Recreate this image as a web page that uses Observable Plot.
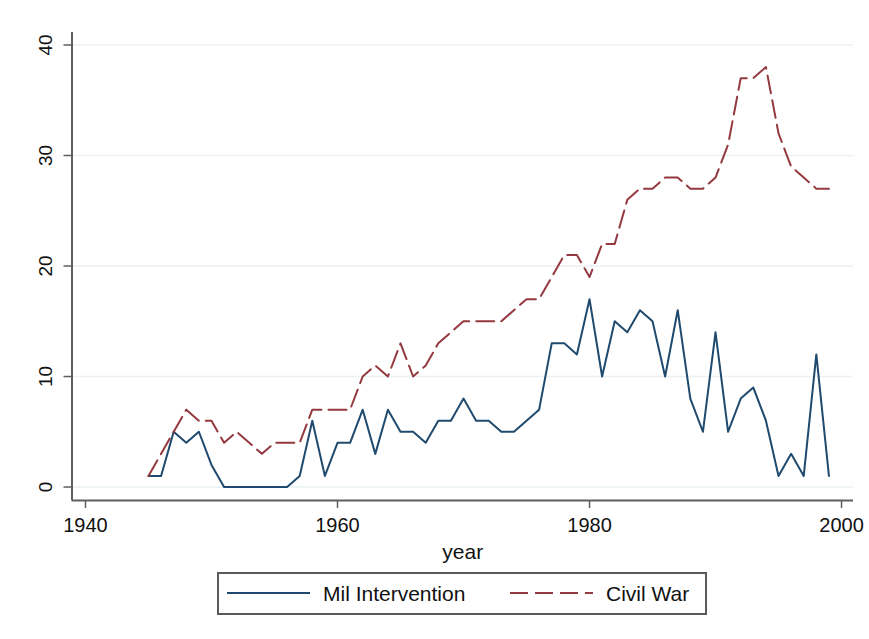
<!DOCTYPE html>
<html><head><meta charset="utf-8">
<script src="https://cdn.jsdelivr.net/npm/d3@7"></script>
<script src="https://cdn.jsdelivr.net/npm/@observablehq/plot@0.6"></script>
<style>
body{margin:0;background:#fff;font-family:"Liberation Sans",Arial,Helvetica,sans-serif;}
#legend{position:relative;margin-left:217px;margin-top:2px;width:486px;height:39px;border:2px solid #5a5a5a;background:#fff;}
#legend .sw{position:absolute;top:17px;}
#legend .lb{position:absolute;top:0;line-height:39px;font-size:21px;color:#111;white-space:nowrap;}
</style></head><body>
<div id="chart"></div>
<script>
const years = [1945,1946,1947,1948,1949,1950,1951,1952,1953,1954,1955,1956,1957,1958,1959,1960,1961,1962,1963,1964,1965,1966,1967,1968,1969,1970,1971,1972,1973,1974,1975,1976,1977,1978,1979,1980,1981,1982,1983,1984,1985,1986,1987,1988,1989,1990,1991,1992,1993,1994,1995,1996,1997,1998,1999];
const milIntervention = [1,1,5,4,5,2,0,0,0,0,0,0,1,6,1,4,4,7,3,7,5,5,4,6,6,8,6,6,5,5,6,7,13,13,12,17,10,15,14,16,15,10,16,8,5,14,5,8,9,6,1,3,1,12,1];
const civilWar = [1,3,5,7,6,6,4,5,4,3,4,4,4,7,7,7,7,10,11,10,13,10,11,13,14,15,15,15,15,16,17,17,19,21,21,19,22,22,26,27,27,28,28,27,27,28,31,37,37,38,32,29,28,27,27];
const seriesNames = ["Mil Intervention", "Civil War"];
const xTicks = [1940, 1960, 1980, 2000];
const yTicks = [0, 10, 20, 30, 40];
const xLabel = "year";

const blue = "#1f4a6e", red = "#94393f", axisGray = "#5e5e5e";
const xDom = [1938.93, 2000.95], yDom = [-1.22, 41.13];

const data = years.map((y, i) => ({year: y, mil: milIntervention[i], civ: civilWar[i]}));

const plot = Plot.plot({
  width: 869, height: 570,
  marginLeft: 71.5, marginRight: 16, marginTop: 32, marginBottom: 70,
  style: {fontFamily: '"Liberation Sans",Arial,Helvetica,sans-serif', background: "#fff", color: "#111"},
  x: {domain: xDom},
  y: {domain: yDom, axis: null},
  marks: [
    Plot.gridY(yTicks, {stroke: "#eaf2f3", strokeOpacity: 1, strokeWidth: 1.5}),
    Plot.ruleX([xDom[0]], {y1: yDom[0], y2: yDom[1], stroke: axisGray, strokeWidth: 2}),
    Plot.ruleY([yDom[0]], {x1: xDom[0], x2: xDom[1], stroke: axisGray, strokeWidth: 2}),
    // y ticks and rotated labels
    Plot.ruleY(yTicks, {x1: xDom[0], x2: xDom[0], insetLeft: -8, stroke: axisGray, strokeWidth: 1.5}),
    Plot.text(yTicks, {y: d => d, text: d => String(d), frameAnchor: "left", rotate: -90, dx: -26,
      textAnchor: "middle", lineAnchor: "middle", fontSize: 19, fill: "#111"}),
    Plot.axisX({ticks: xTicks, tickSize: 8, tickPadding: 9, fontSize: 20, label: null, tickFormat: d => String(d), stroke: axisGray, strokeWidth: 1.5}),
    Plot.lineY(data, {x: "year", y: "mil", stroke: blue, strokeWidth: 2}),
    Plot.lineY(data, {x: "year", y: "civ", stroke: red, strokeWidth: 2, strokeDasharray: "18,7"}),
    Plot.text([xLabel], {text: d => d, frameAnchor: "bottom", lineAnchor: "top", dy: 44, fontSize: 21, fill: "#111"})
  ]
});
document.getElementById("chart").appendChild(plot);

const legend = document.createElement("div");
legend.id = "legend";
const items = [
  {name: seriesNames[0], color: blue, dash: null, sw: 8, lb: 104},
  {name: seriesNames[1], color: red, dash: "18,7", sw: 291, lb: 387}
];
for (const it of items) {
  const ns = "http://www.w3.org/2000/svg";
  const s = document.createElementNS(ns, "svg");
  s.setAttribute("class", "sw");
  s.setAttribute("width", 83); s.setAttribute("height", 4);
  s.style.left = it.sw + "px";
  const l = document.createElementNS(ns, "line");
  l.setAttribute("x1", 0); l.setAttribute("x2", 83); l.setAttribute("y1", 2); l.setAttribute("y2", 2);
  l.setAttribute("stroke", it.color); l.setAttribute("stroke-width", 2);
  if (it.dash) l.setAttribute("stroke-dasharray", it.dash);
  s.appendChild(l);
  legend.appendChild(s);
  const t = document.createElement("span");
  t.className = "lb"; t.textContent = it.name; t.style.left = it.lb + "px";
  legend.appendChild(t);
}
document.body.appendChild(legend);
</script>
</body></html>
